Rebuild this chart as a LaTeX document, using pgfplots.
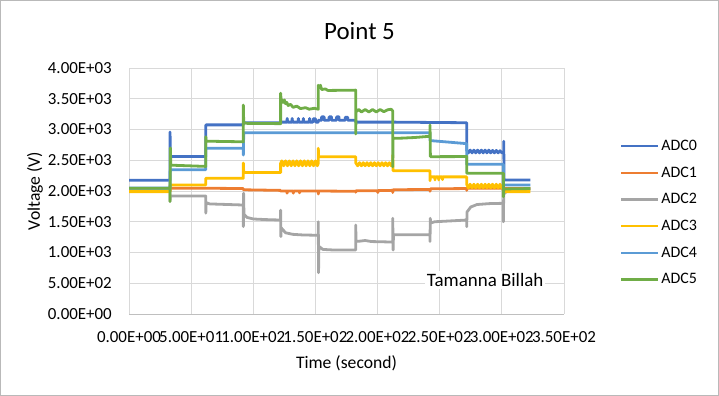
\documentclass[border=0pt]{standalone}
\usepackage{fontspec}
\setmainfont{Carlito}
\usepackage{pgfplots}
\pgfplotsset{compat=1.18}
\definecolor{c0}{HTML}{4472C4}
\definecolor{c1}{HTML}{ED7D31}
\definecolor{c2}{HTML}{A5A5A5}
\definecolor{c3}{HTML}{FFC000}
\definecolor{c4}{HTML}{5B9BD5}
\definecolor{c5}{HTML}{70AD47}
\definecolor{gridc}{HTML}{D9D9D9}
\begin{document}
\begin{tikzpicture}
\useasboundingbox (0,0) rectangle (719bp,396bp);
\draw[gray!55, line width=0.8bp] (0.4bp,0.4bp) rectangle (718.6bp,395.6bp);
\begin{axis}[
  at={(129bp,82bp)}, anchor=south west,
  scale only axis, width=435bp, height=246bp,
  xmin=0, xmax=350, ymin=0, ymax=4000,
  xtick={0,50,...,350}, ytick={0,500,...,4000},
  xticklabels={0.00E+00,5.00E+01,1.00E+02,1.50E+02,2.00E+02,2.50E+02,3.00E+02,3.50E+02},
  yticklabels={0.00E+00,5.00E+02,1.00E+03,1.50E+03,2.00E+03,2.50E+03,3.00E+03,3.50E+03,4.00E+03},
  major tick length=0pt,
  tick label style={font=\fontsize{17}{20}\selectfont, inner sep=0pt},
  yticklabel style={anchor=east, xshift=-17bp},
  xticklabel style={anchor=north, yshift=-17bp},
  grid=major, grid style={gridc, line width=0.8bp},
  axis line style={draw=none},
  title={Point 5},
  title style={at={(axis description cs:0.53,1.126)}, anchor=center, font=\fontsize{25}{30}\selectfont},
  xlabel={Time (second)},
  ylabel={Voltage (V)},
  every axis x label/.style={at={(axis description cs:0.5,-0.199)}, anchor=center, font=\fontsize{17.7}{21}\selectfont},
  every axis y label/.style={at={(axis description cs:-0.216,0.5)}, anchor=center, rotate=90, font=\fontsize{17.7}{21}\selectfont},
  legend style={at={(axis description cs:1.128,0.715)}, anchor=north west, draw=none, fill=none,
    font=\fontsize{16}{19}\selectfont, row sep=10.8bp, inner sep=0pt,
    /tikz/every odd column/.append style={column sep=0bp}},
  legend cell align=left,
  legend image code/.code={\draw[#1, line width=2.4bp] (0bp,0bp) -- (37bp,0bp);},
  every axis plot/.append style={line width=2.8bp, line join=round},
  clip=false,
]
\draw[gray!50, line width=0.8bp] (axis cs:0,0) -- (axis cs:350,0);
% ADC0
\addplot[c0] coordinates {(0,2175)(33,2175)(33,2960)(33.4,2560)(61.8,2560)(61.8,3075)(92,3075)(92,3110)(122,3110)(122,3120)(127,3120)(127.3,3180)(127.6,3120)(131,3120)(131.3,3180)(131.6,3120)(136,3120)(136.3,3180)(136.6,3120)(140,3120)(140.3,3180)(140.6,3120)(145,3120)(145.3,3180)(145.6,3120)(148,3120)(148.3,3175)(150,3175)(150.3,3120)(152.3,3120)(152.3,3150)(155,3150)(155,3205)(157,3205)(157,3150)(161,3150)(161,3205)(163,3205)(163,3150)(167,3150)(167,3205)(169,3205)(169,3150)(174,3150)(174,3200)(176,3200)(176,3150)(182.4,3150)(182.4,3120)(212,3120)(242,3115)(271.7,3110)(271.7,2665)(273,2620)(274.5,2665)(276,2620)(277.5,2665)(279,2620)(280.5,2665)(282,2620)(283.5,2665)(285,2620)(286.5,2665)(288,2620)(289.5,2665)(291,2620)(292.5,2660)(294,2620)(295.5,2660)(297,2620)(298.5,2655)(300,2620)(301.5,2630)(301.5,2810)(301.8,2180)(323,2180)};
\addlegendentry{ADC0}
% ADC1
\addplot[c1] coordinates {(0,2030)(33,2030)(33,2000)(33.4,2045)(61.8,2045)(92,2040)(92,2020)(122,2010)(122,2000)(127,2000)(127.2,1965)(127.5,2000)(132,2000)(132.2,1965)(132.5,2000)(137,2000)(137.2,1970)(137.5,2000)(152.3,2000)(152.3,1950)(152.6,2000)(182.4,1995)(182.4,1980)(182.7,2005)(200,2005)(200.2,1975)(200.5,2008)(212.2,2010)(212.2,1975)(212.5,2020)(242.2,2025)(242.2,1995)(242.5,2035)(271.7,2040)(271.7,2010)(272,2045)(301.2,2045)(301.2,2000)(301.5,2040)(323,2040)};
\addlegendentry{ADC1}
% ADC2
\addplot[c2] coordinates {(0,2030)(33,2030)(33,1830)(33.3,1920)(61.8,1920)(61.8,1640)(62.1,1810)(65,1790)(92,1772)(92,1420)(92.2,1965)(92.5,1620)(95,1570)(100,1545)(110,1535)(122,1528)(122,1690)(122.2,1260)(122.5,1400)(126,1320)(132,1295)(140,1285)(152.3,1280)(152.3,1500)(152.5,672)(152.8,1100)(156,1050)(165,1040)(182.4,1040)(182.4,1447)(182.7,1180)(186,1185)(190,1195)(195,1178)(212.2,1170)(212.2,1556)(212.5,1040)(212.8,1290)(242.2,1290)(242.2,1180)(242.4,1556)(242.7,1480)(246,1500)(260,1515)(271.7,1528)(271.7,1420)(272,1660)(275,1740)(280,1780)(290,1795)(301.2,1800)(301.2,1500)(301.5,1950)(305,2020)(323,2030)};
\addlegendentry{ADC2}
% ADC3
\addplot[c3] coordinates {(0,1990)(33,1990)(33,2098)(61.8,2098)(61.8,2206)(92,2206)(92,2455)(92.3,2300)(122,2300)(122,2450)(123,2490)(124.5,2410)(126,2490)(127.5,2410)(129,2490)(130.5,2410)(132,2490)(133.5,2410)(135,2490)(136.5,2410)(138,2490)(139.5,2410)(141,2490)(142.5,2410)(144,2490)(145.5,2410)(147,2490)(148.5,2410)(150,2490)(151.5,2410)(152.3,2450)(152.3,2694)(152.6,2558)(182.4,2558)(182.4,2460)(184,2410)(185.5,2460)(187,2410)(188.5,2460)(190,2410)(191.5,2460)(193,2410)(194.5,2460)(196,2410)(197.5,2460)(199,2410)(200.5,2460)(202,2410)(203.5,2460)(205,2410)(206.5,2460)(208,2410)(209.5,2460)(211,2410)(212.2,2430)(212.2,2585)(212.5,2330)(242.2,2330)(242.2,2167)(242.5,2230)(246,2230)(246.2,2180)(246.5,2230)(249,2230)(249.2,2180)(249.5,2230)(252,2230)(252.2,2185)(252.5,2230)(271.7,2230)(271.7,2110)(273,2050)(274.5,2110)(276,2050)(277.5,2110)(279,2050)(280.5,2110)(282,2050)(283.5,2110)(285,2050)(286.5,2110)(288,2050)(289.5,2110)(291,2050)(292.5,2110)(294,2050)(295.5,2110)(297,2050)(298.5,2110)(300,2050)(301.2,2070)(301.2,1990)(323,1990)};
\addlegendentry{ADC3}
% ADC4
\addplot[c4] coordinates {(0,2050)(33,2050)(33,2300)(33.3,2345)(61.8,2345)(61.8,2694)(92,2694)(92,2585)(92.3,2948)(242.2,2948)(242.2,2820)(260,2790)(271.7,2770)(271.7,2434)(301.2,2434)(301.2,2098)(323,2098)};
\addlegendentry{ADC4}
% ADC5
\addplot[c5] coordinates {(0,2045)(33,2045)(33,1830)(33.3,2700)(33.6,2420)(61.8,2400)(61.8,2883)(62.1,2810)(92,2800)(92,3398)(92.3,3110)(95,3100)(122,3095)(122,3590)(122.3,3500)(124,3440)(125,3480)(126,3420)(127,3440)(128,3390)(130,3410)(132,3360)(135,3380)(138,3340)(142,3355)(145,3330)(149,3345)(152.3,3330)(152.3,3720)(153,3680)(154,3720)(155,3650)(158,3660)(160,3635)(182.4,3640)(182.4,2927)(182.7,3290)(185,3325)(187,3285)(190,3325)(193,3285)(196,3325)(199,3285)(202,3325)(205,3290)(208,3320)(211,3330)(212.2,3300)(212.2,2395)(212.5,2856)(220,2860)(230,2870)(242.2,2890)(242.2,3073)(242.5,2558)(271.7,2560)(271.7,2290)(301.2,2290)(301.2,1907)(301.5,2033)(323,2040)};
\addlegendentry{ADC5}
\node[fill=white, inner sep=2bp, font=\fontsize{19}{23}\selectfont] at (axis cs:286.6,553) {Tamanna Billah};
\end{axis}
\end{tikzpicture}
\end{document}
